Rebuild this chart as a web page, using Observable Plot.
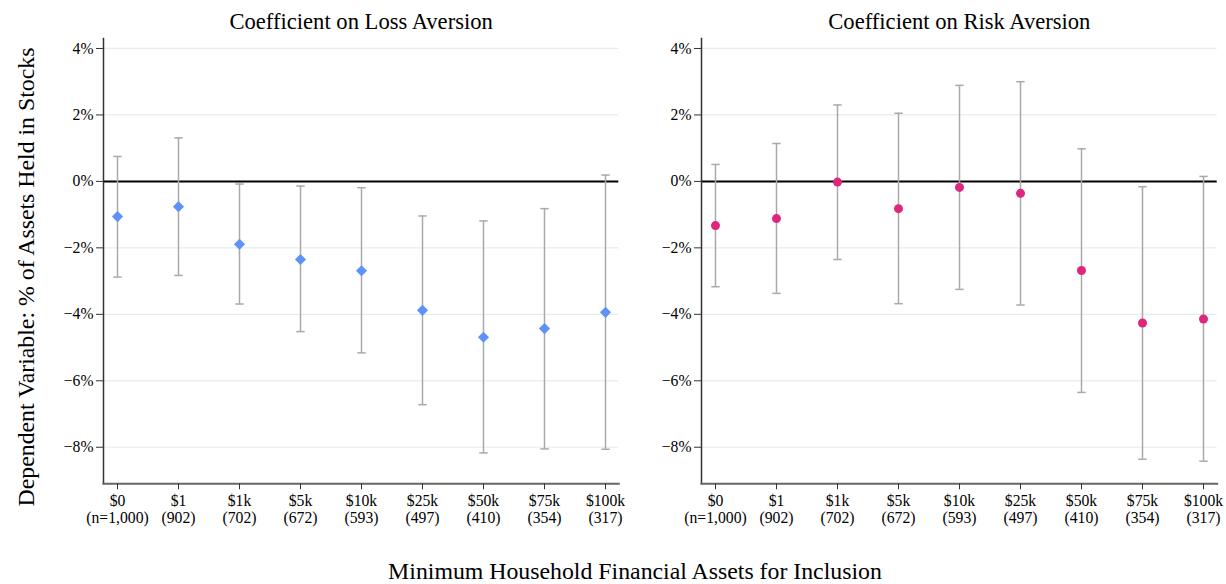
<!DOCTYPE html>
<html>
<head>
<meta charset="utf-8">
<script src="https://cdn.jsdelivr.net/npm/d3@7"></script>
<script src="https://cdn.jsdelivr.net/npm/@observablehq/plot@0.6"></script>
<style>
  html, body { margin: 0; padding: 0; background: #fff; }
  #wrap { position: relative; width: 1226px; height: 584px; font-family: "Liberation Serif", "Times New Roman", serif; color: #000; overflow: hidden; }
  #left, #right { position: absolute; top: 0; }
  #left { left: 0; }
  #right { left: 640px; }
  #wrap svg { font-family: "Liberation Serif", "Times New Roman", serif !important; font-size: 15.7px !important; overflow: visible; }
  #wrap svg g, #wrap svg text, #wrap svg tspan { font-family: "Liberation Serif", "Times New Roman", serif !important; }
  .ylab { position: absolute; left: -274px; top: 262px; width: 600px; height: 30px; line-height: 30px; text-align: center; font-size: 23.8px; transform: rotate(-90deg); }
  .xlab { position: absolute; left: 235px; width: 800px; top: 560px; height: 22px; line-height: 22px; text-align: center; font-size: 23.8px; }
</style>
</head>
<body>
<div id="wrap">
  <div id="left"></div>
  <div id="right"></div>
  <div class="ylab">Dependent Variable: % of Assets Held in Stocks</div>
  <div class="xlab">Minimum Household Financial Assets for Inclusion</div>
</div>
<script>
const categories = ["$0", "$1", "$1k", "$5k", "$10k", "$25k", "$50k", "$75k", "$100k"];
const sampleSizes = ["n=1,000", "902", "702", "672", "593", "497", "410", "354", "317"];

const lossCoef = [-1.06, -0.76, -1.89, -2.35, -2.69, -3.88, -4.69, -4.43, -3.94];
const lossLo   = [-2.88, -2.83, -3.69, -4.52, -5.16, -6.72, -8.17, -8.05, -8.06];
const lossHi   = [ 0.75,  1.31, -0.08, -0.14, -0.19, -1.04, -1.19, -0.82,  0.19];

const riskCoef = [-1.33, -1.12, -0.02, -0.82, -0.18, -0.36, -2.68, -4.26, -4.14];
const riskLo   = [-3.17, -3.37, -2.35, -3.68, -3.25, -3.72, -6.35, -8.36, -8.42];
const riskHi   = [ 0.51,  1.14,  2.30,  2.05,  2.89,  3.00,  0.98, -0.16,  0.15];

const yTicks = [-8, -6, -4, -2, 0, 2, 4];
const yDomain = [-9.1, 4.3];

const titles = ["Coefficient on Loss Aversion", "Coefficient on Risk Aversion"];

const capSymbol = {
  draw(ctx) { ctx.moveTo(-4.2, 0); ctx.lineTo(4.2, 0); }
};

function fmtY(d) { return (d < 0 ? "\u2212" : "") + Math.abs(d) + "%"; }
function fmtX(c) { const i = categories.indexOf(c); return c + "\n(" + sampleSizes[i] + ")"; }

function panel(coef, lo, hi, title, opts) {
  const data = categories.map((c, i) => ({cat: c, coef: coef[i], lo: lo[i], hi: hi[i]}));
  return Plot.plot({
    width: opts.width,
    height: 530,
    marginLeft: opts.ml,
    marginRight: opts.mr,
    marginTop: 38,
    marginBottom: 46.7,
    style: {fontFamily: "'Liberation Serif', 'Times New Roman', serif", fontSize: "15.7px", color: "#000", background: "transparent", overflow: "visible"},
    x: {type: "point", domain: categories, padding: 0.161},
    y: {domain: yDomain},
    marks: [
      Plot.ruleY(yTicks, {stroke: "#e3edef", strokeWidth: 1.2}),
      Plot.ruleY([0], {stroke: "#000", strokeWidth: 2}),
      Plot.ruleX(data, {x: "cat", y1: "lo", y2: "hi", stroke: "#a9a9a9", strokeWidth: 1.5}),
      Plot.dot(data, {x: "cat", y: "lo", symbol: capSymbol, stroke: "#a9a9a9", strokeWidth: 1.5, fill: "none", r: 4}),
      Plot.dot(data, {x: "cat", y: "hi", symbol: capSymbol, stroke: "#a9a9a9", strokeWidth: 1.5, fill: "none", r: 4}),
      opts.diamond
        ? Plot.dot(data, {x: "cat", y: "coef", symbol: "diamond2", r: 5, fill: opts.color, stroke: "none"})
        : Plot.dot(data, {x: "cat", y: "coef", symbol: "circle", r: 4.5, fill: opts.color, stroke: "none"}),
      Plot.frame({anchor: "left", stroke: "#333", strokeWidth: 1.5}),
      Plot.frame({anchor: "bottom", stroke: "#666", strokeWidth: 2}),
      Plot.axisY({ticks: yTicks, tickFormat: fmtY, tickSize: 7, tickPadding: 3, label: null, stroke: "#333", fill: "#000"}),
      Plot.axisX({tickFormat: fmtX, tickSize: 6, tickPadding: 4, label: null, lineHeight: 1.1, stroke: "#333", fill: "#000"}),
      Plot.text([title], {frameAnchor: "top", lineAnchor: "middle", dy: -17, fontSize: 22.6, fill: "#000"})
    ]
  });
}

document.getElementById("left").append(panel(lossCoef, lossLo, lossHi, titles[0], {width: 640, ml: 103, mr: 21.7, diamond: true, color: "#5e91fa"}));
document.getElementById("right").append(panel(riskCoef, riskLo, riskHi, titles[1], {width: 586, ml: 61, mr: 9.3, diamond: false, color: "#df267c"}));
</script>
</body>
</html>
